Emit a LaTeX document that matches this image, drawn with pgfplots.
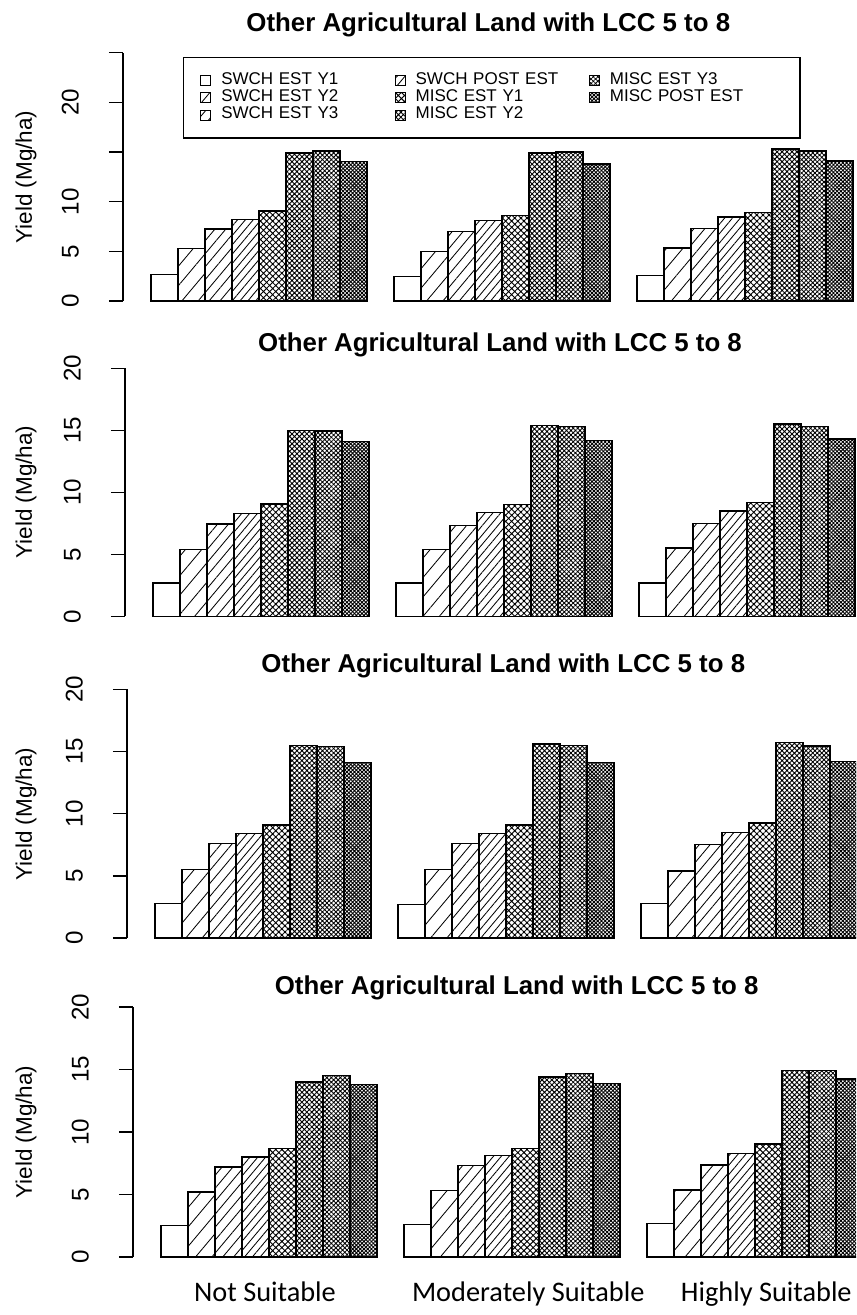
\documentclass[border=0pt]{standalone}
\usepackage{fontspec}
\setmainfont{Liberation Sans}
\newfontfamily\calib{Carlito}
\usepackage{pgfplots}
\pgfplotsset{compat=1.18}
\usetikzlibrary{patterns.meta}

\tikzset{
 pA/.style={fill=white},
 pB/.style={pattern={Lines[angle=50,distance=7.5pt,line width=0.5pt]}},
 pC/.style={pattern={Lines[angle=50,distance=5pt,line width=0.5pt]}},
 pD/.style={pattern={Lines[angle=50,distance=3.6pt,line width=0.5pt]}},
 pE/.style={pattern={Hatch[angle=45,distance=2.6pt,line width=0.55pt]}},
 pF/.style={pattern={Hatch[angle=45,distance=2.1pt,line width=0.55pt]}},
 pG/.style={pattern={Hatch[angle=45,distance=1.9pt,line width=0.5pt]}},
 pH/.style={pattern={Hatch[angle=45,distance=1.6pt,line width=0.55pt]}},
}
\pgfplotsset{
 panel/.style={
  scale only axis, width=454.9pt,
  xmin=-0.04, xmax=28.04, ymin=0,
  axis x line=none, axis y line*=left,
  enlargelimits=false,
  ybar, bar width=1, bar shift=0pt,
  tick align=outside, major tick length=8.5pt,
  tick style={black, line width=0.8pt},
  axis line style={black, line width=0.8pt},
  yticklabel style={rotate=90, anchor=south, font=\fontsize{14.5}{16}\selectfont},
  yticklabel shift=14.5pt,
  clip=false,
  every axis plot/.append style={draw=black, line width=0.8pt},
 }
}

\begin{document}
\begin{tikzpicture}
\useasboundingbox (0,0) rectangle (513.6pt,-789pt);
\clip (0,0) rectangle (513.6pt,-789pt);

% ---------------- Panel 1 ----------------
\begin{axis}[panel, at={(73.8pt,-180.6pt)}, anchor=south west, height=148.98pt,
  ymax=25, ytick={0,5,10,15,20,25}, yticklabels={0,5,10,,20,},
  legend columns=3,
  legend cell align=left,
  legend image code/.code={\draw[#1, draw=black, line width=0.6pt] (0pt,-3pt) rectangle (6pt,3pt);},
  legend style={at={(0.0791,0.9827)}, anchor=north west, draw=black, line width=0.8pt,
    inner xsep=10pt, inner ysep=8.5pt, font=\fontsize{10.2}{12}\selectfont,
    column sep=0pt, row sep=0pt,
    nodes={inner sep=0pt, text height=7.4pt, text depth=3pt, text width=104pt, align=left},
    /tikz/every odd column/.append style={column sep=6pt}},
]
\addplot[pA, forget plot] coordinates {(1.5,2.7) (10.5,2.5) (19.5,2.6)};
\addplot[pB, forget plot] coordinates {(2.5,5.3) (11.5,5.0) (20.5,5.35)};
\addplot[pC, forget plot] coordinates {(3.5,7.25) (12.5,7.0) (21.5,7.3)};
\addplot[pD, forget plot] coordinates {(4.5,8.2) (13.5,8.1) (22.5,8.45)};
\addplot[pE, forget plot] coordinates {(5.5,9.05) (14.5,8.6) (23.5,8.9)};
\addplot[pF, forget plot] coordinates {(6.5,14.9) (15.5,14.9) (24.5,15.3)};
\addplot[pG, forget plot] coordinates {(7.5,15.1) (16.5,15.0) (25.5,15.1)};
\addplot[pH, forget plot] coordinates {(8.5,14.05) (17.5,13.8) (26.5,14.1)};
\addlegendimage{pA}\addlegendentry{SWCH EST Y1}
\addlegendimage{pD}\addlegendentry{SWCH POST EST}
\addlegendimage{pG}\addlegendentry{MISC EST Y3}
\addlegendimage{pB}\addlegendentry{SWCH EST Y2}
\addlegendimage{pE}\addlegendentry{MISC EST Y1}
\addlegendimage{pH}\addlegendentry{MISC POST EST}
\addlegendimage{pC}\addlegendentry{SWCH EST Y3}
\addlegendimage{pF}\addlegendentry{MISC EST Y2}
\end{axis}

% ---------------- Panel 2 ----------------
\begin{axis}[panel, at={(75pt,-369.8pt)}, anchor=south west, height=148.8pt,
  ymax=20, ytick={0,5,10,15,20}, yticklabels={0,5,10,15,20}]
\addplot[pA] coordinates {(1.5,2.7) (10.5,2.7) (19.5,2.7)};
\addplot[pB] coordinates {(2.5,5.4) (11.5,5.4) (20.5,5.5)};
\addplot[pC] coordinates {(3.5,7.45) (12.5,7.3) (21.5,7.5)};
\addplot[pD] coordinates {(4.5,8.3) (13.5,8.4) (22.5,8.5)};
\addplot[pE] coordinates {(5.5,9.05) (14.5,9.0) (23.5,9.2)};
\addplot[pF] coordinates {(6.5,15.0) (15.5,15.4) (24.5,15.5)};
\addplot[pG] coordinates {(7.5,14.95) (16.5,15.3) (25.5,15.3)};
\addplot[pH] coordinates {(8.5,14.1) (17.5,14.2) (26.5,14.3)};
\end{axis}

% ---------------- Panel 3 ----------------
\begin{axis}[panel, at={(76.2pt,-562.8pt)}, anchor=south west, height=149.2pt,
  ymax=20, ytick={0,5,10,15,20}, yticklabels={0,5,10,15,20}]
\addplot[pA] coordinates {(1.5,2.8) (10.5,2.7) (19.5,2.75)};
\addplot[pB] coordinates {(2.5,5.5) (11.5,5.5) (20.5,5.4)};
\addplot[pC] coordinates {(3.5,7.6) (12.5,7.6) (21.5,7.5)};
\addplot[pD] coordinates {(4.5,8.4) (13.5,8.4) (22.5,8.5)};
\addplot[pE] coordinates {(5.5,9.1) (14.5,9.1) (23.5,9.25)};
\addplot[pF] coordinates {(6.5,15.5) (15.5,15.6) (24.5,15.7)};
\addplot[pG] coordinates {(7.5,15.4) (16.5,15.5) (25.5,15.45)};
\addplot[pH] coordinates {(8.5,14.1) (17.5,14.1) (26.5,14.2)};
\end{axis}

% ---------------- Panel 4 ----------------
\begin{axis}[panel, at={(79.8pt,-754.2pt)}, anchor=south west, height=150pt,
  ymax=20, ytick={0,5,10,15,20}, yticklabels={0,5,10,15,20}]
\addplot[pA] coordinates {(1.5,2.5) (10.5,2.6) (19.5,2.7)};
\addplot[pB] coordinates {(2.5,5.2) (11.5,5.3) (20.5,5.35)};
\addplot[pC] coordinates {(3.5,7.2) (12.5,7.3) (21.5,7.35)};
\addplot[pD] coordinates {(4.5,8.0) (13.5,8.1) (22.5,8.3)};
\addplot[pE] coordinates {(5.5,8.7) (14.5,8.7) (23.5,9.05)};
\addplot[pF] coordinates {(6.5,14.0) (15.5,14.4) (24.5,14.9)};
\addplot[pG] coordinates {(7.5,14.5) (16.5,14.7) (25.5,14.9)};
\addplot[pH] coordinates {(8.5,13.8) (17.5,13.9) (26.5,14.25)};
\end{axis}

% titles
\foreach \cx/\by in {293/-19.2, 300/-210.6, 302/-403.2, 310/-596.4}{
  \node[anchor=base, inner sep=0pt, font=\fontsize{15.5}{17}\selectfont\bfseries] at (\cx pt,\by pt) {Other Agricultural Land with LCC 5 to 8};
}
% y labels
\foreach \cy in {-106.2, -295.2, -488.4, -679.2}{
  \node[rotate=90, inner sep=0pt, font=\fontsize{13.5}{15}\selectfont] at (15.6pt,\cy pt) {Yield (Mg/ha)};
}
% category labels
\node[anchor=base, inner sep=0pt, font=\calib\fontsize{17}{20}\selectfont] at (159pt,-780.6pt) {Not Suitable};
\node[anchor=base west, inner sep=0pt, font=\calib\fontsize{17}{20}\selectfont] at (247pt,-780.6pt) {Moderately Suitable};
\node[anchor=base east, inner sep=0pt, font=\calib\fontsize{17}{20}\selectfont] at (511.2pt,-780.6pt) {Highly Suitable};
\end{tikzpicture}
\end{document}
